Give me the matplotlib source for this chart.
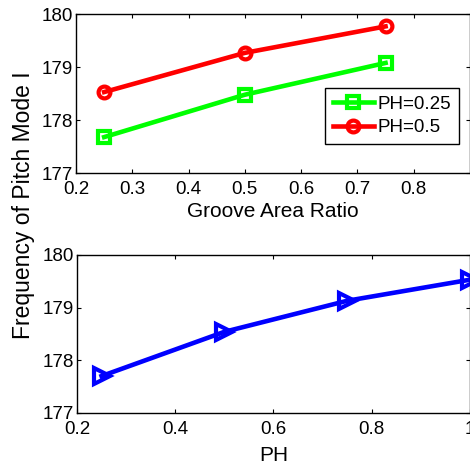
import matplotlib.pyplot as plt

plt.rcParams['font.family'] = ['Liberation Sans', 'DejaVu Sans']

# top panel: frequency vs groove area ratio
ratio = [0.25, 0.5, 0.75]
freq_ph025 = [177.68, 178.48, 179.08]
freq_ph05 = [178.53, 179.27, 179.77]

# bottom panel: frequency vs PH
ph = [0.25, 0.5, 0.75, 1.0]
freq_ph = [177.70, 178.54, 179.13, 179.53]

fig = plt.figure(figsize=(4.7, 4.73), dpi=100)

ax1 = fig.add_axes([0.1617, 0.634, 0.8383, 0.336])
ax2 = fig.add_axes([0.1638, 0.127, 0.8362, 0.334])

ax1.plot(ratio, freq_ph025, color='#00ff00', lw=3.3, marker='s', ms=8.5,
         mfc='none', mew=3, label='PH=0.25')
ax1.plot(ratio, freq_ph05, color='#ff0000', lw=3.3, marker='o', ms=8.5,
         mfc='none', mew=3, label='PH=0.5')
ax1.set_xlim(0.2, 0.9)
ax1.set_ylim(177, 180)
ax1.set_xticks([0.2, 0.3, 0.4, 0.5, 0.6, 0.7, 0.8])
ax1.set_yticks([177, 178, 179, 180])
ax1.set_xlabel('Groove Area Ratio', fontsize=15, labelpad=3)
leg = ax1.legend(loc='center right', bbox_to_anchor=(0.972, 0.36), fontsize=13.5,
                 frameon=True, fancybox=False, edgecolor='black', framealpha=1,
                 handlelength=2.2, borderpad=0.4, labelspacing=0.35, handletextpad=0.2,
                 borderaxespad=0)
leg.get_frame().set_linewidth(1.0)

ax2.plot(ph, freq_ph, color='#0000ff', lw=3.3, marker='>', ms=11,
         mfc='none', mew=3, clip_on=False)
ax2.set_xlim(0.2, 1.0)
ax2.set_ylim(177, 180)
ax2.set_xticks([0.2, 0.4, 0.6, 0.8, 1.0])
ax2.set_xticklabels(['0.2', '0.4', '0.6', '0.8', '1'])
ax2.set_yticks([177, 178, 179, 180])
ax2.set_xlabel('PH', fontsize=15, labelpad=6)

for ax in (ax1, ax2):
    ax.tick_params(direction='in', top=True, right=True, length=3, width=0.8,
                   labelsize=13.5)
    ax.tick_params(axis='x', pad=5.5)
    ax.tick_params(axis='y', pad=2)
    for s in ax.spines.values():
        s.set_linewidth(1.0)

fig.text(0.05, 0.5655, 'Frequency of Pitch Mode I', rotation=90, fontsize=16.5,
         ha='center', va='center')

fig.savefig('out.png', dpi=100)
